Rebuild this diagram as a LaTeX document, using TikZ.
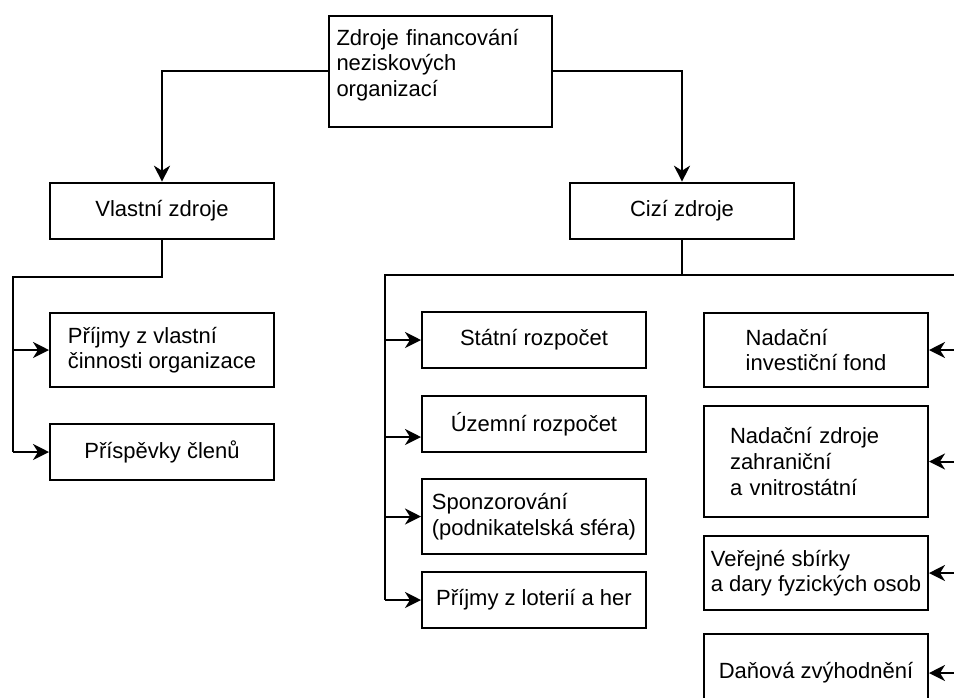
\documentclass[tikz,border=0pt]{standalone}
\usepackage{fontspec}
\setmainfont{Liberation Sans}
\usetikzlibrary{arrows.meta}

\begin{document}
\begin{tikzpicture}[x=0.5pt, y=-0.5pt,
    box/.style={draw, line width=1pt, minimum width=112pt, minimum height=28pt,
        inner sep=2pt, font=\fontsize{11}{12.8}\selectfont},
    arr/.style={-{Stealth[length=8pt, width=8pt, inset=2.5pt]}},
    every path/.style={line width=1pt}]

    \useasboundingbox (0, 0) rectangle (954, 697);

    % Root
    \node[box, minimum width=111.5pt, minimum height=55.5pt, text width=104pt,
        inner xsep=3.75pt, align=left, text depth=34pt] (root) at (440.5, 71.2)
        {Zdroje financování\\neziskových\\organizací};

    % Two main groups
    \node[box] (vlastni) at (162, 210.7) {Vlastní zdroje};
    \node[box] (cizi) at (682, 210.7) {Cizí zdroje};

    \draw[arr] (root.west) -| (vlastni.north);
    \draw[arr] (root.east) -| (cizi.north);

    % Own sources
    \node[box, minimum height=37pt, align=left] (cinnost) at (162, 350)
        {Příjmy z vlastní\\činnosti organizace};
    \node[box] (clenove) at (162, 452) {Příspěvky členů};

    \coordinate (lbus) at (13, 277);
    \draw[line width=1.3pt] (vlastni.south) |- (lbus) -- (lbus |- clenove.west);
    \foreach \n in {cinnost, clenove}
        \draw[arr] (lbus |- \n.west) -- (\n.west);

    % Foreign sources, left column
    \node[box] (statni) at (534, 340) {Státní rozpočet};
    \node[box] (uzemni) at (534, 424) {Územní rozpočet};
    \node[box, minimum height=37.5pt, align=left] (sponzor) at (534, 516.5)
        {Sponzorování\\(podnikatelská sféra)};
    \node[box] (loterie) at (534, 600) {Příjmy z loterií a her};

    % Foreign sources, right column
    \node[box, minimum height=37pt, align=left] (nadfond) at (816, 350)
        {Nadační\\investiční fond};
    \node[box, minimum height=55.5pt, text width=86pt, inner xsep=13pt,
        align=left] (nadzdroje) at (816, 461.5)
        {Nadační zdroje\\zahraniční\\a vnitrostátní};
    \node[box, minimum height=37pt, align=left] (sbirky) at (816, 573)
        {Veřejné sbírky\\a dary fyzických osob};
    \node[box, minimum height=39pt] (dane) at (816, 673) {Daňová zvýhodnění};

    \coordinate (cbus) at (385, 275);
    \coordinate (rbus) at (954, 275);
    \draw (cizi.south) |- (cbus) -- (cbus |- loterie.west);
    \draw (cizi.south) |- (rbus);

    \foreach \n in {statni, sponzor, loterie}
        \draw[arr] (cbus |- \n.west) -- (\n.west);
    \draw[arr] ([yshift=-6.5pt]uzemni.west -| cbus) -- ([yshift=-6.5pt]uzemni.west);

    \foreach \n in {nadfond, nadzdroje, sbirky, dane}
        \draw[arr] (rbus |- \n.east) -- (\n.east);

\end{tikzpicture}
\end{document}
